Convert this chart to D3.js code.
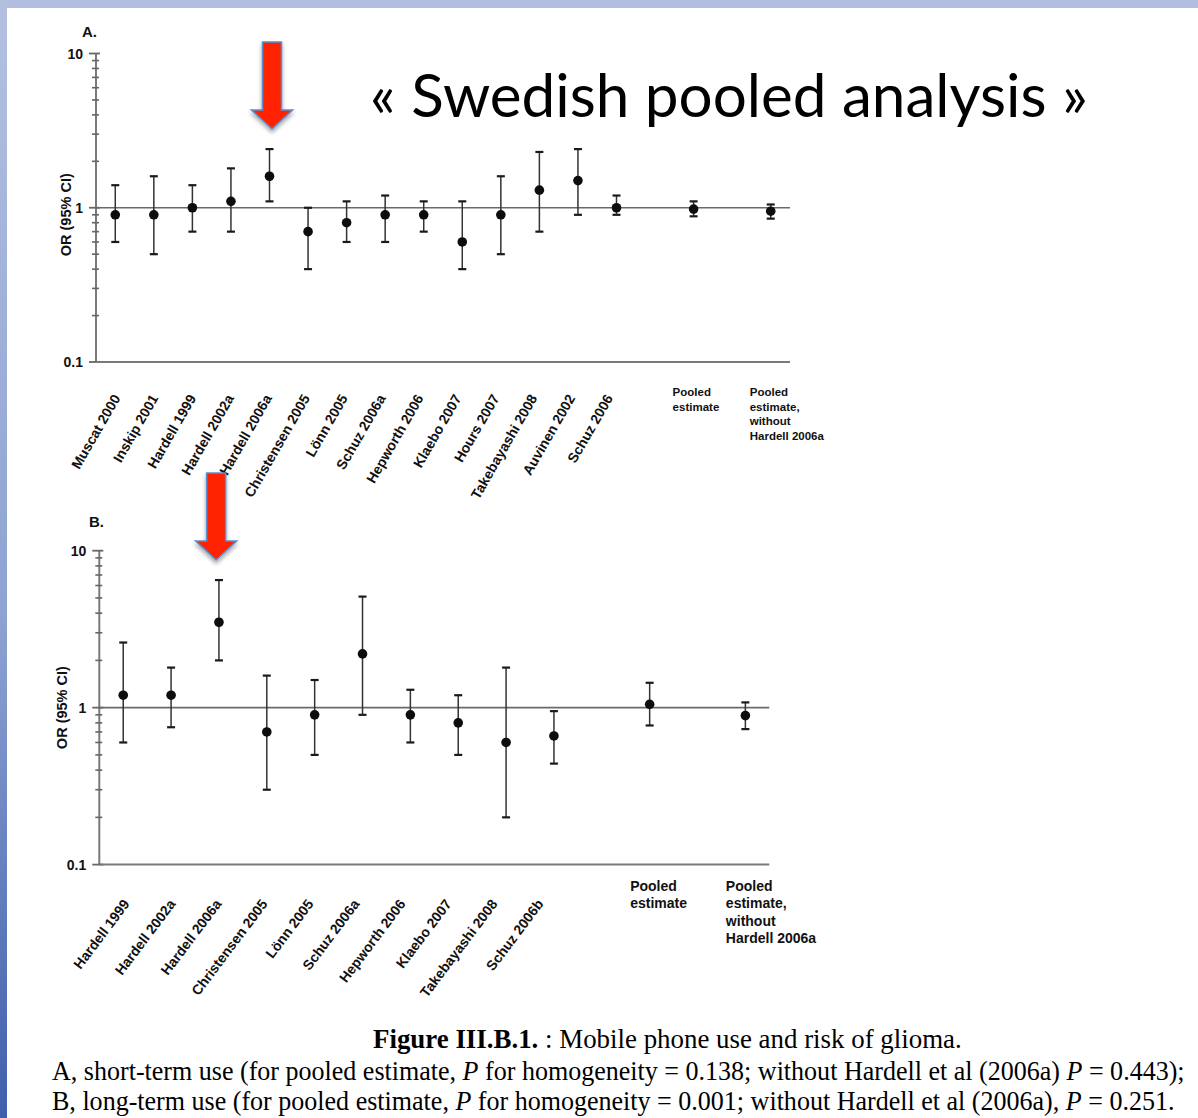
<!DOCTYPE html>
<html>
<head>
<meta charset="utf-8">
<script src="https://cdn.jsdelivr.net/npm/d3@7"></script>
<style>
  html, body { margin: 0; padding: 0; background: #fff; }
  svg { display: block; }
</style>
</head>
<body>
<script>
// ---- Panel A: short-term use ----
const studiesA = ["Muscat 2000", "Inskip 2001", "Hardell 1999", "Hardell 2002a", "Hardell 2006a",
  "Christensen 2005", "Lönn 2005", "Schuz 2006a", "Hepworth 2006", "Klaebo 2007", "Hours 2007",
  "Takebayashi 2008", "Auvinen 2002", "Schuz 2006"];
const orA   = [0.9, 0.9, 1.0, 1.1, 1.6, 0.7, 0.8, 0.9, 0.9, 0.6, 0.9, 1.3, 1.5, 1.0];
const lowA  = [0.6, 0.5, 0.7, 0.7, 1.1, 0.4, 0.6, 0.6, 0.7, 0.4, 0.5, 0.7, 0.9, 0.9];
const highA = [1.4, 1.6, 1.4, 1.8, 2.4, 1.0, 1.1, 1.2, 1.1, 1.1, 1.6, 2.3, 2.4, 1.2];
const pooledOrA   = [0.98, 0.95];
const pooledLowA  = [0.88, 0.85];
const pooledHighA = [1.10, 1.05];

// ---- Panel B: long-term use ----
const studiesB = ["Hardell 1999", "Hardell 2002a", "Hardell 2006a", "Christensen 2005", "Lönn 2005",
  "Schuz 2006a", "Hepworth 2006", "Klaebo 2007", "Takebayashi 2008", "Schuz 2006b"];
const orB   = [1.2, 1.2, 3.5, 0.7, 0.9, 2.2, 0.9, 0.8, 0.6, 0.66];
const lowB  = [0.6, 0.75, 2.0, 0.3, 0.5, 0.9, 0.6, 0.5, 0.2, 0.44];
const highB = [2.6, 1.8, 6.5, 1.6, 1.5, 5.1, 1.3, 1.2, 1.8, 0.95];
const pooledOrB   = [1.05, 0.89];
const pooledLowB  = [0.77, 0.73];
const pooledHighB = [1.44, 1.08];

// Pooled-estimate labels (one line per entry)
const pooledLabels = [["Pooled", "estimate"], ["Pooled", "estimate,", "without", "Hardell 2006a"]];

// Log axis ticks
const majorTicks = [0.1, 1, 10];
const majorTickLabels = ["0.1", "1", "10"];
const minorTicks = [0.2, 0.3, 0.4, 0.5, 0.6, 0.7, 0.8, 0.9, 2, 3, 4, 5, 6, 7, 8, 9];

const titleText = "« Swedish pooled analysis »";
const yTitle = "OR (95% CI)";

const W = 1198, H = 1118;
const svg = d3.select("body").append("svg").attr("width", W).attr("height", H)
  .style("font-family", "'Liberation Sans', Arial, sans-serif");

// ---- slide background ----
const defs = svg.append("defs");
const edge = defs.append("linearGradient").attr("id", "edgeGrad")
  .attr("x1", 0).attr("y1", 0).attr("x2", 0).attr("y2", 1);
edge.append("stop").attr("offset", "0%").attr("stop-color", "#b3c0e0");
edge.append("stop").attr("offset", "55%").attr("stop-color", "#8ea3d3");
edge.append("stop").attr("offset", "100%").attr("stop-color", "#3f5fab");
const shadow = defs.append("filter").attr("id", "arrowShadow")
  .attr("x", "-50%").attr("y", "-20%").attr("width", "200%").attr("height", "150%");
shadow.append("feDropShadow").attr("dx", 0).attr("dy", 3).attr("stdDeviation", 2)
  .attr("flood-color", "#000").attr("flood-opacity", 0.35);

svg.append("rect").attr("width", W).attr("height", H).attr("fill", "#fff");
svg.append("rect").attr("x", 0).attr("y", 0).attr("width", W).attr("height", 8).attr("fill", "#b1bee0");
svg.append("rect").attr("x", 0).attr("y", 0).attr("width", 7).attr("height", H).attr("fill", "url(#edgeGrad)");

// ---- forest-style panel ----
function drawPanel(cfg, studies, or, low, high, pOr, pLow, pHigh) {
  const g = svg.append("g");
  const keys = studies.concat(["_gap1", "_pooled", "_gap2", "_pooledNoH"]);
  const x = d3.scaleBand().domain(keys).range([cfg.left, cfg.right]).paddingInner(0).paddingOuter(0);
  const cx = k => x(k) + x.bandwidth() / 2;
  const y = d3.scaleLog().domain([0.1, 10]).range([cfg.bottom, cfg.top]);

  // y axis line and ticks
  g.append("line").attr("x1", cfg.left).attr("x2", cfg.left)
    .attr("y1", y(10)).attr("y2", y(0.1)).attr("stroke", "#7a7a7a").attr("stroke-width", 2);
  g.selectAll(".minor").data(minorTicks).join("line")
    .attr("x1", cfg.left - 4).attr("x2", cfg.left + 3)
    .attr("y1", d => y(d)).attr("y2", d => y(d))
    .attr("stroke", "#666").attr("stroke-width", 1.6);
  g.selectAll(".major").data(majorTicks).join("line")
    .attr("x1", cfg.left - 7).attr("x2", cfg.left + 4)
    .attr("y1", d => y(d)).attr("y2", d => y(d))
    .attr("stroke", "#666").attr("stroke-width", 1.8);
  g.selectAll(".tlab").data(majorTicks).join("text")
    .attr("x", cfg.left - 13).attr("y", d => y(d) + 5)
    .attr("text-anchor", "end").attr("font-weight", "bold").attr("font-size", 14)
    .attr("fill", "#111")
    .text((d, i) => majorTickLabels[i]);

  // reference line at OR = 1 and baseline at 0.1
  g.append("line").attr("x1", cfg.left).attr("x2", cfg.right)
    .attr("y1", y(1)).attr("y2", y(1)).attr("stroke", "#6a6a6a").attr("stroke-width", 1.6);
  g.append("line").attr("x1", cfg.left).attr("x2", cfg.right)
    .attr("y1", y(0.1)).attr("y2", y(0.1)).attr("stroke", "#7a7a7a").attr("stroke-width", 2);

  // panel letter and y title
  g.append("text").attr("x", cfg.letterX).attr("y", cfg.letterY)
    .attr("font-weight", "bold").attr("font-size", 15).attr("fill", "#111").text(cfg.letter);
  g.append("text")
    .attr("transform", `translate(${cfg.titleX},${y(1) + cfg.titleDy}) rotate(-90)`)
    .attr("text-anchor", "middle").attr("dy", "0.35em")
    .attr("font-weight", "bold").attr("font-size", 14.5).attr("fill", "#111").text(yTitle);

  // estimates with confidence intervals
  const rows = studies.map((s, i) => ({ k: s, or: or[i], lo: low[i], hi: high[i] }))
    .concat([{ k: "_pooled", or: pOr[0], lo: pLow[0], hi: pHigh[0] },
             { k: "_pooledNoH", or: pOr[1], lo: pLow[1], hi: pHigh[1] }]);
  const mk = g.selectAll(".est").data(rows).join("g");
  mk.append("line").attr("x1", d => cx(d.k)).attr("x2", d => cx(d.k))
    .attr("y1", d => y(d.lo)).attr("y2", d => y(d.hi))
    .attr("stroke", "#333").attr("stroke-width", 1.5);
  ["lo", "hi"].forEach(e => {
    mk.append("line").attr("x1", d => cx(d.k) - 4).attr("x2", d => cx(d.k) + 4)
      .attr("y1", d => y(d[e])).attr("y2", d => y(d[e]))
      .attr("stroke", "#1a1a1a").attr("stroke-width", 2.2);
  });
  mk.append("circle").attr("cx", d => cx(d.k)).attr("cy", d => y(d.or)).attr("r", 4.8).attr("fill", "#0d0d0d");

  // rotated study labels (set slightly tighter than the tick spacing)
  const x0 = cx(studies[0]) + cfg.labelDx, step = x.bandwidth() * cfg.labelStep;
  g.selectAll(".clab").data(studies).join("text")
    .attr("transform", (d, i) => `translate(${x0 + i * step},${cfg.labelY}) rotate(${cfg.angle})`)
    .attr("text-anchor", "end").attr("font-weight", "bold").attr("font-size", cfg.fontSize)
    .attr("fill", "#111").text(d => d);

  // pooled labels
  ["_pooled", "_pooledNoH"].forEach((k, i) => {
    const t = g.append("text").attr("font-weight", "bold").attr("font-size", cfg.pooledFont).attr("fill", "#111");
    pooledLabels[i].forEach((line, j) => {
      t.append("tspan").attr("x", cx(k) + cfg.pooledDx).attr("y", cfg.pooledY + j * cfg.pooledLH).text(line);
    });
  });
  return { x: cx, y };
}

const A = drawPanel({ left: 96, right: 790, top: 53.5, bottom: 362, letter: "A.", letterX: 82, letterY: 37,
  titleX: 66, titleDy: 7, angle: -60, labelDx: 5.5, labelStep: 0.983, labelY: 398, fontSize: 14,
  pooledY: 396, pooledLH: 14.5, pooledFont: 11.5, pooledDx: -21 },
  studiesA, orA, lowA, highA, pooledOrA, pooledLowA, pooledHighA);

const B = drawPanel({ left: 99.3, right: 769.3, top: 550.7, bottom: 864.6, letter: "B.", letterX: 89, letterY: 527,
  titleX: 62, titleDy: 0, angle: -53, labelDx: 7, labelStep: 0.961, labelY: 904, fontSize: 14,
  pooledY: 891, pooledLH: 17.4, pooledFont: 14, pooledDx: -19.5 },
  studiesB, orB, lowB, highB, pooledOrB, pooledLowB, pooledHighB);

// ---- red callout arrows above Hardell 2006a ----
function arrow(cx, top, headY, tipY) {
  const sw = 9.5, hw = 20.5;
  const p = [[cx - sw, top], [cx + sw, top], [cx + sw, headY], [cx + hw, headY], [cx, tipY],
             [cx - hw, headY], [cx - sw, headY]];
  svg.append("path").attr("d", "M" + p.map(q => q.join(",")).join("L") + "Z")
    .attr("fill", "#ff2200").attr("stroke", "#5b8fcf").attr("stroke-width", 1.6)
    .attr("filter", "url(#arrowShadow)");
}
arrow(A.x("Hardell 2006a") + 2.5, 42, 110, 129);
arrow(B.x("Hardell 2006a") - 2.8, 473, 541, 560);

// ---- slide title ----
const title = svg.append("text").attr("x", 370).attr("y", 117)
  .style("font-family", "Lato, 'Open Sans', sans-serif").attr("font-size", 56).attr("fill", "#000")
  .text(titleText);
const tw = title.node().getComputedTextLength();
title.attr("font-size", 56 * 718 / tw);

// ---- figure caption (condensed serif) ----
const capFont = "'Liberation Serif', 'Times New Roman', serif";
function capLine(parts, yb) {
  const t = svg.append("text").attr("y", yb).style("font-family", capFont).attr("font-size", 27).attr("fill", "#000");
  parts.forEach(p => {
    const s = t.append("tspan").text(p.t);
    if (p.b) s.attr("font-weight", "bold");
    if (p.i) s.attr("font-style", "italic");
  });
  return t;
}
const l1 = capLine([{ t: "Figure III.B.1.", b: true }, { t: " : Mobile phone use and risk of glioma." }], 1048);
const l2 = capLine([{ t: "A, short-term use (for pooled estimate, " }, { t: "P", i: true },
  { t: " for homogeneity = 0.138; without Hardell et al (2006a) " }, { t: "P", i: true }, { t: " = 0.443);" }], 1080);
const l3 = capLine([{ t: "B, long-term use (for pooled estimate, " }, { t: "P", i: true },
  { t: " for homogeneity = 0.001; without Hardell et al (2006a), " }, { t: "P", i: true }, { t: " = 0.251." }], 1110);
const w2 = l2.node().getComputedTextLength(), w3 = l3.node().getComputedTextLength();
const sx = 1133 / Math.max(w2, w3);
[l2, l3].forEach(t => t.attr("x", 0).attr("transform", `translate(52,0) scale(${sx},1)`));
const w1 = l1.node().getComputedTextLength();
const sx1 = 589 / w1;
l1.attr("x", 0).attr("transform", `translate(373,0) scale(${sx1},1)`);
</script>
</body>
</html>
